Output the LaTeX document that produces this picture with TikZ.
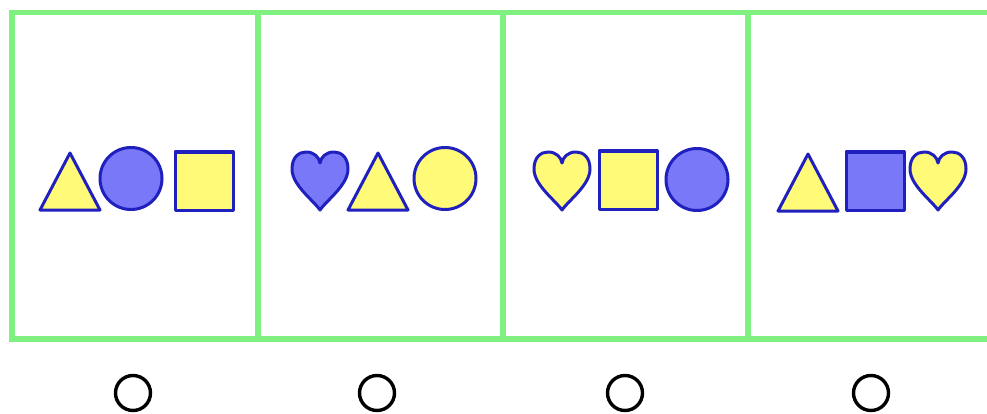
\documentclass[tikz,border=0pt]{standalone}
\usetikzlibrary{shapes.geometric}
\definecolor{frame}{RGB}{128,240,128}
\definecolor{edge}{RGB}{32,32,190}
\definecolor{bfill}{RGB}{120,120,248}
\definecolor{yfill}{RGB}{255,250,120}
\tikzset{
  frameline/.style={draw=frame,line width=5.5pt},
  shp/.style={draw=edge,line width=3pt,line join=round},
  opt/.style={circle,draw=black,line width=3.4pt,minimum size=35pt,inner sep=0pt},
  tri/.pic={\path[pic actions] (-30,-28.5) -- (0,28.5) -- (30,-28.5) -- cycle;},
  sq/.pic={\path[pic actions] (-29,-29) rectangle (29,29);},
  rnd/.pic={\path[pic actions] (0,0) circle (31);},
  hrt/.pic={\path[pic actions] (0,-29) .. controls (-7,-19) and (-28,-4) .. (-28,12)
     .. controls (-28,24) and (-21,29) .. (-14,29)
     .. controls (-6,29) and (-1,24) .. (0,18)
     .. controls (1,24) and (6,29) .. (14,29)
     .. controls (21,29) and (28,24) .. (28,12)
     .. controls (28,-4) and (7,-19) .. (0,-29) -- cycle;}
}
\begin{document}
\begin{tikzpicture}[x=1pt,y=1pt]
\useasboundingbox (0,0) rectangle (987,413);
% frame
\draw[frameline] (995,400.5) -- (12,400.5) -- (12,74) -- (995,74);
\draw[frameline] (258,400.5) -- (258,74);
\draw[frameline] (503,400.5) -- (503,74);
\draw[frameline] (748,400.5) -- (748,74);
% panel 1
\pic[shp,fill=yfill] at (70,231.5) {tri};
\pic[shp,fill=bfill] at (131,234.5) {rnd};
\pic[shp,fill=yfill] at (204,232) {sq};
% panel 2
\pic[shp,fill=bfill] at (320,232) {hrt};
\pic[shp,fill=yfill] at (378,231.5) {tri};
\pic[shp,fill=yfill] at (445,234.5) {rnd};
% panel 3
\pic[shp,fill=yfill] at (562,232) {hrt};
\pic[shp,fill=yfill] at (628,233) {sq};
\pic[shp,fill=bfill] at (697,233.5) {rnd};
% panel 4
\pic[shp,fill=yfill] at (808,230.5) {tri};
\pic[shp,fill=bfill] at (875,232) {sq};
\pic[shp,fill=yfill] at (938,232) {hrt};
% answer options
\node[opt] (o1) at (133,20) {};
\node[opt] (o2) at (377,20) {};
\node[opt] (o3) at (625,20) {};
\node[opt] (o4) at (871,20) {};
\end{tikzpicture}
\end{document}
